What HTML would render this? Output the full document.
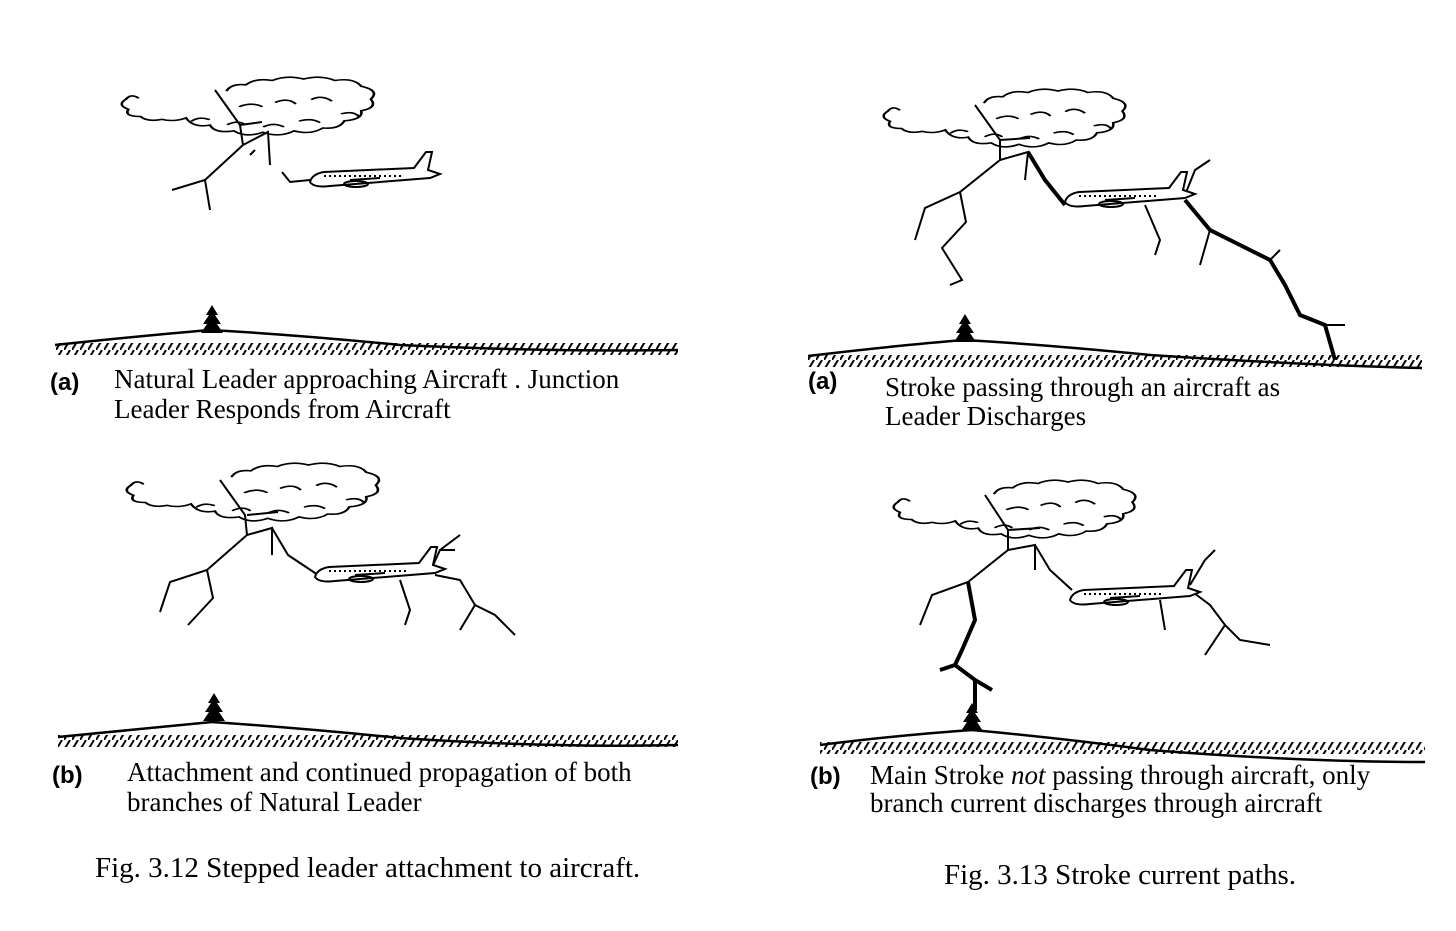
<!DOCTYPE html>
<html><head><meta charset="utf-8"><style>
html,body{margin:0;padding:0;background:#fff;}
svg{display:block}
.t{font-family:"Liberation Serif",serif;font-size:27px;fill:#000}
.l{font-family:"Liberation Sans",sans-serif;font-size:24px;font-weight:bold;fill:#000}
</style></head><body>
<svg width="1456" height="931" viewBox="0 0 1456 931" xmlns="http://www.w3.org/2000/svg">
<defs>
<pattern id="h" width="8" height="10" patternUnits="userSpaceOnUse">
<line x1="0" y1="10" x2="6" y2="0" stroke="#000" stroke-width="2"/>
</pattern>
<g id="cloud" fill="none" stroke="#000" stroke-width="2.2" stroke-linecap="round">
<path d="M5,10 q-8,8 2,14 q-4,10 10,10 q6,8 18,4 q10,4 20,-2 q6,14 20,10 q4,12 20,8 q10,10 24,2 q14,8 26,-2 q14,6 24,-4 q14,2 18,-10 q16,-2 14,-14 q14,-4 8,-16 q8,-12 -8,-18 q-6,-12 -22,-8 q-12,-8 -26,-2 q-14,-6 -26,2 q-14,-4 -22,6 q-12,-2 -16,8"/>
<path d="M100,20 q10,-6 18,0 M130,14 q10,-6 16,2 M160,10 q8,-6 16,2 M185,30 q10,-4 14,4 M150,40 q10,-4 16,2 M120,48 q8,-6 16,0 M90,45 q8,-6 14,0 M60,40 q6,-6 14,-2"/>
<path d="M5,10 q4,-8 10,-2"/>
</g>
<g id="plane" fill="none" stroke="#000" stroke-width="2">
<path d="M0,22 q2,-8 14,-10 l90,-4 l12,-16 l6,0 l-4,18 l12,4 l-10,4 l-100,8 q-16,2 -20,-4z" fill="#fff"/>
<path d="M14,16 h80" stroke-dasharray="2,3"/>
<ellipse cx="46" cy="24" rx="12" ry="3"/>
<path d="M40,20 l30,-2"/>
</g>
<g id="tree" fill="#000"><path d="M0,0 l-6,10 l3,0 l-6,9 l4,0 l-6,9 l22,0 l-6,-9 l4,0 l-6,-9 l3,0z"/></g>
</defs>

<!-- LEFT (a) -->
<use href="#cloud" transform="translate(120,92) scale(1.2,0.72)"/>
<g fill="none" stroke="#000" stroke-width="2">
<path d="M215,90 L240,125 L243,145 L205,180 L172,190 M205,180 L210,210 M243,145 L268,132 L270,165 M240,125 L262,122 M250,155 L255,150 M282,172 L290,182 L310,180"/>
</g>
<use href="#plane" x="310" y="160"/>
<rect x="55" y="343" width="623" height="12" fill="url(#h)"/>
<path d="M55,345 Q150,335 210,330 Q300,335 400,345 Q550,352 678,350" stroke="#000" stroke-width="2.5" fill="none"/>
<use href="#tree" x="212" y="305"/>
<text class="l" x="50" y="390">(a)</text>
<text class="t" x="114" y="388">Natural Leader approaching Aircraft .  Junction</text>
<text class="t" x="114" y="418">Leader Responds from Aircraft</text>

<!-- LEFT (b) -->
<use href="#cloud" transform="translate(125,478) scale(1.2,0.72)"/>
<g fill="none" stroke="#000" stroke-width="2">
<path d="M220,480 L245,515 L247,535 L207,570 L170,582 L160,612 M207,570 L213,598 L188,625 M247,535 L272,528 L272,555 M247,515 L278,512 M272,528 L288,555 L318,575"/>
<path d="M435,575 L460,580 L475,605 L460,630 M475,605 L495,615 L515,635 M400,580 L410,610 L405,625 M430,572 L440,550 L460,535 M440,550 L455,550"/>
</g>
<use href="#plane" x="315" y="555"/>
<rect x="58" y="735" width="620" height="12" fill="url(#h)"/>
<path d="M58,737 Q150,728 212,722 Q300,728 400,738 Q550,748 678,745" stroke="#000" stroke-width="2.5" fill="none"/>
<use href="#tree" x="214" y="693"/>
<text class="l" x="52" y="783">(b)</text>
<text class="t" x="127" y="781">Attachment and continued propagation of both</text>
<text class="t" x="127" y="811">branches of Natural Leader</text>

<!-- RIGHT (a) -->
<use href="#cloud" transform="translate(882,104) scale(1.15,0.72)"/>
<g fill="none" stroke="#000" stroke-width="2">
<path d="M975,105 L1000,140 L1000,160 L960,192 L925,208 L915,240 M960,192 L966,222 L942,248 L962,280 L950,285 M1000,160 L1028,152 L1025,180 M1000,140 L1030,138"/>
<path d="M1028,152 L1045,180 L1065,205" stroke-width="4"/>
<path d="M1185,200 L1210,230 L1240,245 L1270,260 L1285,285 L1300,315 L1325,325 L1335,360" stroke-width="4"/>
<path d="M1145,205 L1160,240 L1155,255 M1185,195 L1195,170 L1210,160 M1210,230 L1200,265 M1270,260 L1280,250 M1325,325 L1345,325"/>
</g>
<use href="#plane" x="1065" y="180"/>
<rect x="808" y="355" width="614" height="12" fill="url(#h)"/>
<path d="M808,356 Q900,345 965,340 Q1050,345 1150,355 Q1300,365 1422,368" stroke="#000" stroke-width="2.5" fill="none"/>
<use href="#tree" x="965" y="314"/>
<text class="l" x="808" y="389">(a)</text>
<text class="t" x="885" y="396">Stroke passing through an aircraft as</text>
<text class="t" x="885" y="425">Leader Discharges</text>

<!-- RIGHT (b) -->
<use href="#cloud" transform="translate(892,495) scale(1.15,0.72)"/>
<g fill="none" stroke="#000" stroke-width="2">
<path d="M985,495 L1008,530 L1008,550 L968,582 L932,595 L920,625 M1008,550 L1035,545 L1035,570 M1008,530 L1040,528 M1035,545 L1050,570 L1072,590"/>
<path d="M968,582 L975,620 L962,650 L955,665 L975,680 L992,690 M955,665 L940,670 M975,680 L975,710" stroke-width="4"/>
<path d="M1190,590 L1210,605 L1225,625 L1240,640 L1270,645 M1225,625 L1205,655 M1160,600 L1165,630 M1190,585 L1205,560 L1215,550"/>
</g>
<use href="#plane" x="1070" y="578"/>
<rect x="820" y="742" width="605" height="12" fill="url(#h)"/>
<path d="M820,745 Q900,735 972,730 Q1060,738 1150,750 Q1300,762 1425,762" stroke="#000" stroke-width="2.5" fill="none"/>
<use href="#tree" x="972" y="703"/>
<text class="l" x="810" y="784">(b)</text>
<text class="t" x="870" y="784">Main Stroke <tspan font-style="italic">not</tspan> passing through aircraft, only</text>
<text class="t" x="870" y="812">branch current discharges through aircraft</text>

<text class="t" x="95" y="877" style="font-size:29px">Fig. 3.12 Stepped leader attachment to aircraft.</text>
<text class="t" x="944" y="884" style="font-size:29px">Fig. 3.13 Stroke current paths.</text>
</svg>
</body></html>
